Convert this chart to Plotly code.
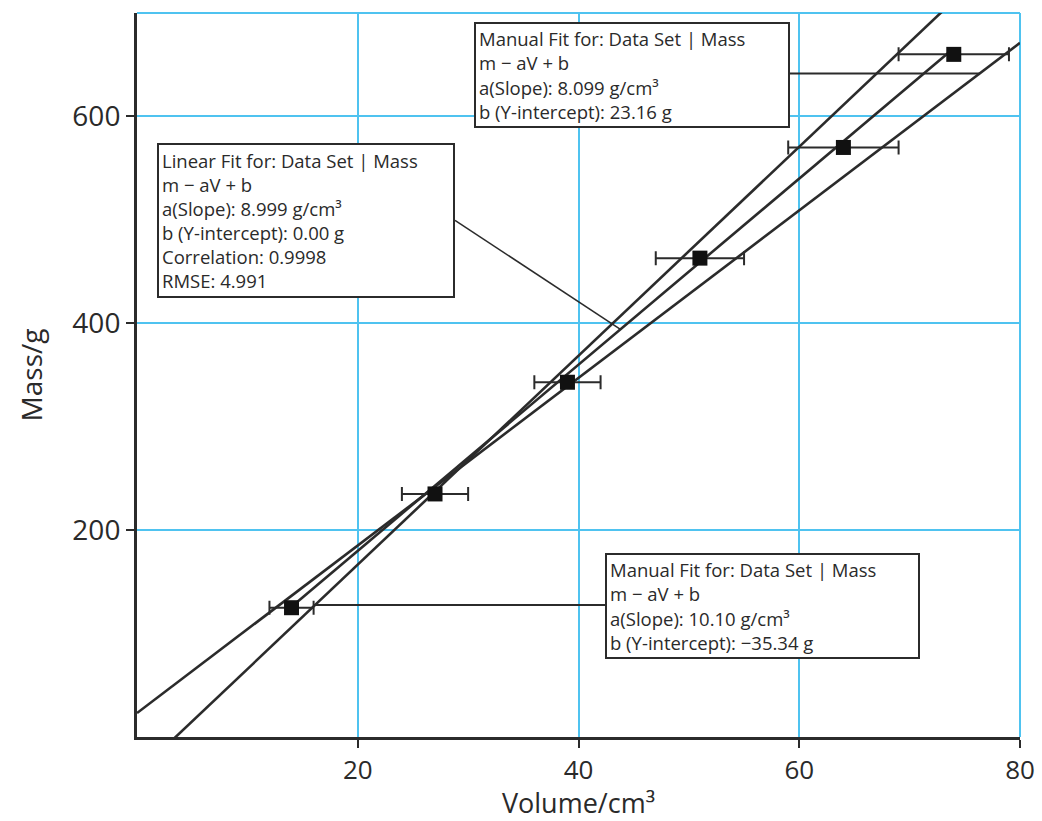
import numpy as np
import plotly.graph_objects as go

# ---- data ----
volume = [14, 27, 39, 51, 64, 74]          # cm^3
mass = [125, 235, 343, 463, 570, 660]      # g
volume_err = [2, 3, 3, 4, 5, 5]

linear_fit = dict(a=8.999, b=0.00)
manual_fit_1 = dict(a=8.099, b=23.16)
manual_fit_2 = dict(a=10.10, b=-35.34)

x_range = [0, 80]
y_range = [0, 700]
x_ticks = [20, 40, 60, 80]
y_ticks = [200, 400, 600]

# ---- layout geometry (pixels) ----
W, H = 1042, 821
L, R, T, B = 137, 1020, 12.5, 737

def px_x(p):
    return (p - L) / (R - L)

def px_y(p):
    return (B - p) / (B - T)

def dx(p):
    return px_x(p) * (x_range[1] - x_range[0]) + x_range[0]

def dy(p):
    return px_y(p) * (y_range[1] - y_range[0]) + y_range[0]

INK = "#2b2b2b"
TXT = "#2a2a2a"
GRID = "#4fc3f0"
FONT = "Open Sans"

fig = go.Figure()

# manual fits span whole axis
for fit in (manual_fit_1, manual_fit_2):
    xs = np.array(x_range, dtype=float)
    fig.add_trace(go.Scatter(x=xs, y=fit["a"] * xs + fit["b"], mode="lines",
                             line=dict(color=INK, width=2.6), hoverinfo="skip",
                             showlegend=False))
# linear fit spans data range
xs = np.array([min(volume), max(volume)], dtype=float)
fig.add_trace(go.Scatter(x=xs, y=linear_fit["a"] * xs + linear_fit["b"], mode="lines",
                         line=dict(color=INK, width=2.6), hoverinfo="skip",
                         showlegend=False))

# data points
fig.add_trace(go.Scatter(
    x=volume, y=mass, mode="markers",
    marker=dict(symbol="square", size=15, color="#111111"),
    error_x=dict(type="data", array=volume_err, color=INK, thickness=2, width=7),
    showlegend=False))

# callout lines (endpoints on the fit lines)
def x_on(fit, y):
    return (y - fit["b"]) / fit["a"]

shapes = []
y1 = dy(73)
shapes.append(dict(type="line", xref="x", yref="y",
                   x0=dx(790), y0=y1, x1=x_on(manual_fit_1, y1), y1=y1,
                   line=dict(color=INK, width=2)))
x_end = 43.8
shapes.append(dict(type="line", xref="x", yref="y",
                   x0=dx(455), y0=dy(220),
                   x1=x_end, y1=linear_fit["a"] * x_end + linear_fit["b"],
                   line=dict(color=INK, width=1.5)))
y3 = dy(605)
shapes.append(dict(type="line", xref="x", yref="y",
                   x0=dx(605), y0=y3, x1=x_on(manual_fit_2, y3), y1=y3,
                   line=dict(color=INK, width=2)))
# blue frame top/right
shapes.append(dict(type="line", xref="paper", yref="paper", x0=0, x1=1, y0=1, y1=1,
                   line=dict(color=GRID, width=2), layer="below"))
shapes.append(dict(type="line", xref="paper", yref="paper", x0=1, x1=1, y0=0, y1=1,
                   line=dict(color=GRID, width=2), layer="below"))

def box(text, left, top, w, h):
    return dict(xref="paper", yref="paper", x=px_x(left), y=px_y(top),
                xanchor="left", yanchor="top", text=text, showarrow=False,
                align="left", valign="middle", width=w, height=h,
                bgcolor="white", bordercolor=INK, borderwidth=2, borderpad=3,
                font=dict(family=FONT, size=18.5, color=TXT))

annotations = [
    box("Manual Fit for: Data Set | Mass<br>m − aV + b<br>a(Slope): 8.099 g/cm³<br>"
        "b (Y-intercept): 23.16 g", 474, 22, 306, 96),
    box("Linear Fit for: Data Set | Mass<br>m − aV + b<br>a(Slope): 8.999 g/cm³<br>"
        "b (Y-intercept): 0.00 g<br>Correlation: 0.9998<br>RMSE: 4.991", 157, 143, 288, 145),
    box("Manual Fit for: Data Set | Mass<br>m − aV + b<br>a(Slope): 10.10 g/cm³<br>"
        "b (Y-intercept): −35.34 g", 605, 553, 305, 96),
]

fig.update_layout(
    width=W, height=H,
    margin=dict(l=L, r=W - R, t=T, b=H - B, autoexpand=False),
    paper_bgcolor="white", plot_bgcolor="white",
    shapes=shapes, annotations=annotations,
    font=dict(family=FONT, color=TXT),
)
fig.update_xaxes(range=x_range, tickvals=x_ticks, showgrid=True, gridcolor=GRID, gridwidth=2,
                 zeroline=False, showline=True, linecolor=INK, linewidth=3,
                 ticks="outside", ticklen=8, tickwidth=2, tickcolor=INK,
                 tickfont=dict(size=26, color=TXT),
                 title=dict(text="Volume/cm³", font=dict(size=27, color=TXT), standoff=7))
fig.update_yaxes(range=y_range, tickvals=y_ticks, showgrid=True, gridcolor=GRID, gridwidth=2,
                 zeroline=False, showline=True, linecolor=INK, linewidth=3,
                 ticks="outside", ticklen=8, tickwidth=2, tickcolor=INK,
                 tickfont=dict(size=28, color=TXT),
                 title=dict(text="Mass/g", font=dict(size=28, color=TXT), standoff=22))

fig.write_html("out.html")
